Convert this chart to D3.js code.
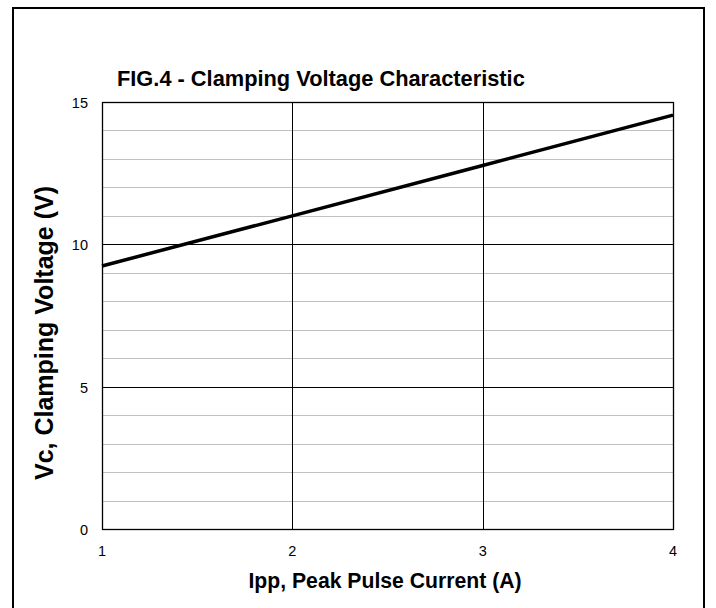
<!DOCTYPE html>
<html><head><meta charset="utf-8">
<script src="https://cdn.jsdelivr.net/npm/d3@7"></script>
<style>body{margin:0;background:#fff}svg{display:block}text{font-family:"Liberation Sans",Arial,sans-serif}</style>
</head><body><svg id="c" width="716" height="608"></svg>
<script>
const currents = [1, 2, 3, 4];
const voltages = [9.24, 11.0, 12.77, 14.54];
const xTicks = [1, 2, 3, 4];
const yMajorTicks = [0, 5, 10, 15];
const yMinorTicks = [1,2,3,4,6,7,8,9,11,12,13,14];
const title = "FIG.4 - Clamping Voltage Characteristic";
const xTitle = "Ipp, Peak Pulse Current (A)";
const yTitle = "Vc, Clamping Voltage (V)";

const svg = d3.select("#c");
const L = 102, T = 102, R = 673, B = 529;
const x = d3.scaleLinear().domain([1, 4]).range([L, R]);
const y = d3.scaleLinear().domain([0, 15]).range([B, T]);

svg.append("rect").attr("x", 13).attr("y", 8).attr("width", 691).attr("height", 620)
  .attr("fill", "none").attr("stroke", "#000").attr("stroke-width", 2);

svg.append("g").selectAll("line").data(yMinorTicks).join("line")
  .attr("x1", L).attr("x2", R).attr("y1", d => Math.round(y(d)) + 0.5).attr("y2", d => Math.round(y(d)) + 0.5)
  .attr("stroke", "#c0c0c0").attr("stroke-width", 1);
svg.append("g").selectAll("line").data(yMajorTicks.slice(1, -1)).join("line")
  .attr("x1", L).attr("x2", R).attr("y1", d => Math.round(y(d)) + 0.5).attr("y2", d => Math.round(y(d)) + 0.5)
  .attr("stroke", "#000").attr("stroke-width", 1);
svg.append("g").selectAll("line").data(xTicks.slice(1, -1)).join("line")
  .attr("y1", T).attr("y2", B).attr("x1", d => Math.round(x(d)) + 0.5).attr("x2", d => Math.round(x(d)) + 0.5)
  .attr("stroke", "#000").attr("stroke-width", 1);

svg.append("rect").attr("x", L + 0.5).attr("y", T + 0.5).attr("width", R - L).attr("height", B - T)
  .attr("fill", "none").attr("stroke", "#000").attr("stroke-width", 1.3);

svg.append("path").datum(currents.map((c, i) => [c, voltages[i]]))
  .attr("d", d3.line().x(d => x(d[0])).y(d => y(d[1])))
  .attr("fill", "none").attr("stroke", "#000").attr("stroke-width", 3.5);

svg.append("g").selectAll("text").data(yMajorTicks).join("text")
  .attr("x", 88).attr("y", d => y(d) + 6).attr("text-anchor", "end")
  .attr("font-size", 14.5).text(d => d);
svg.append("g").selectAll("text").data(xTicks).join("text")
  .attr("x", d => x(d)).attr("y", 556).attr("text-anchor", "middle")
  .attr("font-size", 14.5).text(d => d);

svg.append("text").attr("x", 117).attr("y", 86).attr("font-size", 21.8).attr("font-weight", "bold").text(title);
svg.append("text").attr("x", 385).attr("y", 588).attr("text-anchor", "middle").attr("font-size", 21.2).attr("font-weight", "bold").text(xTitle);
svg.append("text").attr("transform", "translate(53,333) rotate(-90)").attr("text-anchor", "middle")
  .attr("font-size", 25).attr("font-weight", "bold").text(yTitle);
</script></body></html>
